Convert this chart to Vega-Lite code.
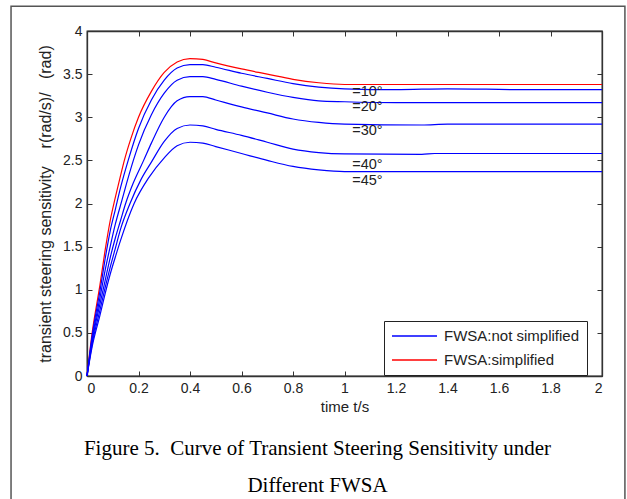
{
  "$schema": "https://vega.github.io/schema/vega-lite/v6.json",
  "width": 515,
  "height": 345,
  "autosize": {"type": "none"},
  "padding": {"left": 87, "top": 31, "right": 25, "bottom": 123},
  "background": "white",
  "config": {
    "view": {"stroke": "#333", "strokeWidth": 1.3},
    "font": "Liberation Sans",
    "axis": {"grid": false, "domainColor": "#333", "domainWidth": 1.3, "tickColor": "#333", "tickSize": -5, "labelColor": "#222", "labelFontSize": 14, "labelFont": "Liberation Sans", "titleFont": "Liberation Sans", "titleFontSize": 15, "titleFontWeight": "normal", "titleColor": "#222", "labelPadding": 10}
  },
  "datasets": {
    "curves": [
      {"curve":"s","type":"FWSA:simplified","t":0,"v":0},{"curve":"s","type":"FWSA:simplified","t":0.02,"v":0.5},{"curve":"s","type":"FWSA:simplified","t":0.05,"v":1.05},{"curve":"s","type":"FWSA:simplified","t":0.07,"v":1.45},{"curve":"s","type":"FWSA:simplified","t":0.09,"v":1.8},{"curve":"s","type":"FWSA:simplified","t":0.11,"v":2.07},{"curve":"s","type":"FWSA:simplified","t":0.13,"v":2.32},{"curve":"s","type":"FWSA:simplified","t":0.145,"v":2.5},{"curve":"s","type":"FWSA:simplified","t":0.17,"v":2.75},{"curve":"s","type":"FWSA:simplified","t":0.2,"v":3.0},{"curve":"s","type":"FWSA:simplified","t":0.25,"v":3.3},{"curve":"s","type":"FWSA:simplified","t":0.3,"v":3.52},{"curve":"s","type":"FWSA:simplified","t":0.35,"v":3.64},{"curve":"s","type":"FWSA:simplified","t":0.4,"v":3.68},{"curve":"s","type":"FWSA:simplified","t":0.45,"v":3.67},{"curve":"s","type":"FWSA:simplified","t":0.5,"v":3.63},{"curve":"s","type":"FWSA:simplified","t":0.6,"v":3.56},{"curve":"s","type":"FWSA:simplified","t":0.7,"v":3.5},{"curve":"s","type":"FWSA:simplified","t":0.8,"v":3.44},{"curve":"s","type":"FWSA:simplified","t":0.9,"v":3.4},{"curve":"s","type":"FWSA:simplified","t":1.0,"v":3.38},{"curve":"s","type":"FWSA:simplified","t":1.2,"v":3.38},{"curve":"s","type":"FWSA:simplified","t":1.5,"v":3.38},{"curve":"s","type":"FWSA:simplified","t":2.0,"v":3.38},

      {"curve":"b10","type":"FWSA:not simplified","t":0,"v":0},{"curve":"b10","type":"FWSA:not simplified","t":0.02,"v":0.47},{"curve":"b10","type":"FWSA:not simplified","t":0.05,"v":0.98},{"curve":"b10","type":"FWSA:not simplified","t":0.07,"v":1.35},{"curve":"b10","type":"FWSA:not simplified","t":0.09,"v":1.68},{"curve":"b10","type":"FWSA:not simplified","t":0.11,"v":1.93},{"curve":"b10","type":"FWSA:not simplified","t":0.13,"v":2.18},{"curve":"b10","type":"FWSA:not simplified","t":0.16,"v":2.5},{"curve":"b10","type":"FWSA:not simplified","t":0.2,"v":2.87},{"curve":"b10","type":"FWSA:not simplified","t":0.25,"v":3.2},{"curve":"b10","type":"FWSA:not simplified","t":0.3,"v":3.43},{"curve":"b10","type":"FWSA:not simplified","t":0.35,"v":3.57},{"curve":"b10","type":"FWSA:not simplified","t":0.4,"v":3.61},{"curve":"b10","type":"FWSA:not simplified","t":0.45,"v":3.61},{"curve":"b10","type":"FWSA:not simplified","t":0.5,"v":3.58},{"curve":"b10","type":"FWSA:not simplified","t":0.6,"v":3.51},{"curve":"b10","type":"FWSA:not simplified","t":0.7,"v":3.45},{"curve":"b10","type":"FWSA:not simplified","t":0.8,"v":3.39},{"curve":"b10","type":"FWSA:not simplified","t":0.9,"v":3.35},{"curve":"b10","type":"FWSA:not simplified","t":1.0,"v":3.33},{"curve":"b10","type":"FWSA:not simplified","t":1.2,"v":3.32},{"curve":"b10","type":"FWSA:not simplified","t":1.4,"v":3.33},{"curve":"b10","type":"FWSA:not simplified","t":1.7,"v":3.32},{"curve":"b10","type":"FWSA:not simplified","t":2.0,"v":3.32},

      {"curve":"b20","type":"FWSA:not simplified","t":0,"v":0},{"curve":"b20","type":"FWSA:not simplified","t":0.02,"v":0.43},{"curve":"b20","type":"FWSA:not simplified","t":0.05,"v":0.9},{"curve":"b20","type":"FWSA:not simplified","t":0.07,"v":1.22},{"curve":"b20","type":"FWSA:not simplified","t":0.09,"v":1.5},{"curve":"b20","type":"FWSA:not simplified","t":0.11,"v":1.76},{"curve":"b20","type":"FWSA:not simplified","t":0.135,"v":2.03},{"curve":"b20","type":"FWSA:not simplified","t":0.16,"v":2.3},{"curve":"b20","type":"FWSA:not simplified","t":0.18,"v":2.5},{"curve":"b20","type":"FWSA:not simplified","t":0.2,"v":2.68},{"curve":"b20","type":"FWSA:not simplified","t":0.25,"v":3.03},{"curve":"b20","type":"FWSA:not simplified","t":0.3,"v":3.28},{"curve":"b20","type":"FWSA:not simplified","t":0.35,"v":3.43},{"curve":"b20","type":"FWSA:not simplified","t":0.4,"v":3.47},{"curve":"b20","type":"FWSA:not simplified","t":0.45,"v":3.47},{"curve":"b20","type":"FWSA:not simplified","t":0.5,"v":3.44},{"curve":"b20","type":"FWSA:not simplified","t":0.6,"v":3.36},{"curve":"b20","type":"FWSA:not simplified","t":0.7,"v":3.29},{"curve":"b20","type":"FWSA:not simplified","t":0.8,"v":3.23},{"curve":"b20","type":"FWSA:not simplified","t":0.9,"v":3.19},{"curve":"b20","type":"FWSA:not simplified","t":1.0,"v":3.18},{"curve":"b20","type":"FWSA:not simplified","t":1.2,"v":3.17},{"curve":"b20","type":"FWSA:not simplified","t":2.0,"v":3.17},

      {"curve":"b30","type":"FWSA:not simplified","t":0,"v":0},{"curve":"b30","type":"FWSA:not simplified","t":0.02,"v":0.4},{"curve":"b30","type":"FWSA:not simplified","t":0.05,"v":0.83},{"curve":"b30","type":"FWSA:not simplified","t":0.07,"v":1.1},{"curve":"b30","type":"FWSA:not simplified","t":0.09,"v":1.37},{"curve":"b30","type":"FWSA:not simplified","t":0.11,"v":1.6},{"curve":"b30","type":"FWSA:not simplified","t":0.13,"v":1.8},{"curve":"b30","type":"FWSA:not simplified","t":0.15,"v":2.0},{"curve":"b30","type":"FWSA:not simplified","t":0.18,"v":2.24},{"curve":"b30","type":"FWSA:not simplified","t":0.22,"v":2.5},{"curve":"b30","type":"FWSA:not simplified","t":0.25,"v":2.7},{"curve":"b30","type":"FWSA:not simplified","t":0.3,"v":3.0},{"curve":"b30","type":"FWSA:not simplified","t":0.35,"v":3.19},{"curve":"b30","type":"FWSA:not simplified","t":0.4,"v":3.24},{"curve":"b30","type":"FWSA:not simplified","t":0.45,"v":3.24},{"curve":"b30","type":"FWSA:not simplified","t":0.5,"v":3.2},{"curve":"b30","type":"FWSA:not simplified","t":0.6,"v":3.12},{"curve":"b30","type":"FWSA:not simplified","t":0.7,"v":3.05},{"curve":"b30","type":"FWSA:not simplified","t":0.8,"v":2.98},{"curve":"b30","type":"FWSA:not simplified","t":0.9,"v":2.94},{"curve":"b30","type":"FWSA:not simplified","t":1.0,"v":2.92},{"curve":"b30","type":"FWSA:not simplified","t":1.3,"v":2.91},{"curve":"b30","type":"FWSA:not simplified","t":1.4,"v":2.92},{"curve":"b30","type":"FWSA:not simplified","t":2.0,"v":2.92},

      {"curve":"b40","type":"FWSA:not simplified","t":0,"v":0},{"curve":"b40","type":"FWSA:not simplified","t":0.02,"v":0.37},{"curve":"b40","type":"FWSA:not simplified","t":0.05,"v":0.76},{"curve":"b40","type":"FWSA:not simplified","t":0.07,"v":1.02},{"curve":"b40","type":"FWSA:not simplified","t":0.09,"v":1.26},{"curve":"b40","type":"FWSA:not simplified","t":0.11,"v":1.48},{"curve":"b40","type":"FWSA:not simplified","t":0.13,"v":1.7},{"curve":"b40","type":"FWSA:not simplified","t":0.167,"v":2.0},{"curve":"b40","type":"FWSA:not simplified","t":0.21,"v":2.28},{"curve":"b40","type":"FWSA:not simplified","t":0.25,"v":2.48},{"curve":"b40","type":"FWSA:not simplified","t":0.3,"v":2.72},{"curve":"b40","type":"FWSA:not simplified","t":0.35,"v":2.87},{"curve":"b40","type":"FWSA:not simplified","t":0.4,"v":2.91},{"curve":"b40","type":"FWSA:not simplified","t":0.45,"v":2.9},{"curve":"b40","type":"FWSA:not simplified","t":0.5,"v":2.86},{"curve":"b40","type":"FWSA:not simplified","t":0.6,"v":2.79},{"curve":"b40","type":"FWSA:not simplified","t":0.7,"v":2.71},{"curve":"b40","type":"FWSA:not simplified","t":0.8,"v":2.63},{"curve":"b40","type":"FWSA:not simplified","t":0.9,"v":2.59},{"curve":"b40","type":"FWSA:not simplified","t":1.0,"v":2.575},{"curve":"b40","type":"FWSA:not simplified","t":1.3,"v":2.57},{"curve":"b40","type":"FWSA:not simplified","t":1.35,"v":2.58},{"curve":"b40","type":"FWSA:not simplified","t":2.0,"v":2.58},

      {"curve":"b45","type":"FWSA:not simplified","t":0,"v":0},{"curve":"b45","type":"FWSA:not simplified","t":0.02,"v":0.34},{"curve":"b45","type":"FWSA:not simplified","t":0.05,"v":0.7},{"curve":"b45","type":"FWSA:not simplified","t":0.07,"v":0.95},{"curve":"b45","type":"FWSA:not simplified","t":0.09,"v":1.18},{"curve":"b45","type":"FWSA:not simplified","t":0.11,"v":1.38},{"curve":"b45","type":"FWSA:not simplified","t":0.13,"v":1.57},{"curve":"b45","type":"FWSA:not simplified","t":0.183,"v":2.0},{"curve":"b45","type":"FWSA:not simplified","t":0.24,"v":2.3},{"curve":"b45","type":"FWSA:not simplified","t":0.3,"v":2.53},{"curve":"b45","type":"FWSA:not simplified","t":0.35,"v":2.67},{"curve":"b45","type":"FWSA:not simplified","t":0.4,"v":2.71},{"curve":"b45","type":"FWSA:not simplified","t":0.45,"v":2.7},{"curve":"b45","type":"FWSA:not simplified","t":0.5,"v":2.66},{"curve":"b45","type":"FWSA:not simplified","t":0.6,"v":2.58},{"curve":"b45","type":"FWSA:not simplified","t":0.7,"v":2.5},{"curve":"b45","type":"FWSA:not simplified","t":0.8,"v":2.43},{"curve":"b45","type":"FWSA:not simplified","t":0.9,"v":2.39},{"curve":"b45","type":"FWSA:not simplified","t":1.0,"v":2.37},{"curve":"b45","type":"FWSA:not simplified","t":2.0,"v":2.37}
    ],
    "labels": [
      {"t": 1.03, "v": 3.245, "label": "=10°"},
      {"t": 1.03, "v": 3.075, "label": "=20°"},
      {"t": 1.03, "v": 2.8, "label": "=30°"},
      {"t": 1.03, "v": 2.4, "label": "=40°"},
      {"t": 1.03, "v": 2.21, "label": "=45°"}
    ]
  },
  "title": {
    "text": ["Figure 5.\u00a0 Curve of Transient Steering Sensitivity under", "Different FWSA"],
    "orient": "bottom",
    "anchor": "middle",
    "frame": "group",
    "font": "Liberation Serif",
    "fontSize": 21,
    "fontWeight": "normal",
    "color": "#000",
    "lineHeight": 37,
    "offset": -68,
    "dx": -27
  },
  "resolve": {"axis": {"x": "independent", "y": "independent"}},
  "layer": [
    {
      "data": {"values": [{}]},
      "mark": {"type": "rect", "fill": null, "stroke": "#555", "strokeWidth": 1.5, "clip": false},
      "encoding": {
        "x": {"datum": -0.295, "type": "quantitative", "scale": {"domain": [0, 2], "nice": false}, "axis": null},
        "x2": {"datum": 2.089},
        "y": {"datum": 4.286, "type": "quantitative", "scale": {"domain": [0, 4], "nice": false}, "axis": null},
        "y2": {"datum": -1.5}
      }
    },
    {
      "data": {"name": "curves"},
      "mark": {"type": "line", "strokeWidth": 1.2, "interpolate": "monotone"},
      "encoding": {
        "x": {"field": "t", "type": "quantitative", "scale": {"domain": [0, 2], "nice": false},
              "axis": {"orient": "bottom", "values": [0,0.2,0.4,0.6,0.8,1,1.2,1.4,1.6,1.8,2], "format": "~g", "title": "time t/s", "titlePadding": 4}},
        "y": {"field": "v", "type": "quantitative", "scale": {"domain": [0, 4], "nice": false},
              "axis": {"orient": "left", "values": [0,0.5,1,1.5,2,2.5,3,3.5,4], "format": "~g", "title": "transient steering sensitivity\u00a0\u00a0\u00a0 r(rad/s)/\u00a0\u00a0 (rad)", "titleFontSize": 16, "titlePadding": 9}},
        "detail": {"field": "curve"},
        "color": {"field": "type", "type": "nominal",
          "scale": {"domain": ["FWSA:not simplified", "FWSA:simplified"], "range": ["#0000ff", "#ff0000"]},
          "legend": {"title": null, "orient": "none", "legendX": 297, "legendY": 290, "symbolType": "M-1,0H5.43", "symbolSize": 196, "symbolStrokeWidth": 1.3, "labelFontSize": 15, "labelColor": "#222", "labelFont": "Liberation Sans", "labelOffset": 37, "strokeColor": "#222", "fillColor": "white", "padding": 7, "rowPadding": 8}
        }
      }
    },
    {
      "data": {"name": "labels"},
      "mark": {"type": "text", "align": "left", "baseline": "alphabetic", "fontSize": 14.5, "font": "Liberation Sans", "color": "#222"},
      "encoding": {
        "x": {"field": "t", "type": "quantitative", "scale": {"domain": [0, 2], "nice": false},
              "axis": {"orient": "top", "values": [0,0.2,0.4,0.6,0.8,1,1.2,1.4,1.6,1.8,2], "labels": false, "title": null}},
        "y": {"field": "v", "type": "quantitative", "scale": {"domain": [0, 4], "nice": false},
              "axis": {"orient": "right", "values": [0,0.5,1,1.5,2,2.5,3,3.5,4], "labels": false, "title": null}},
        "text": {"field": "label"}
      }
    }
  ]
}
